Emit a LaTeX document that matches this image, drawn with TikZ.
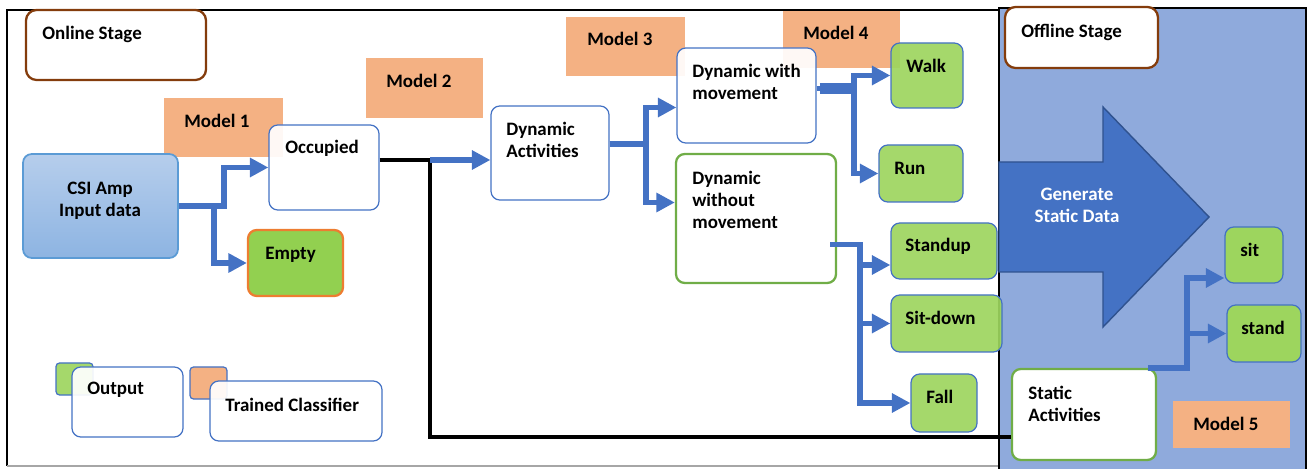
\documentclass[tikz,border=0pt]{standalone}
\usepackage{fontspec}
\setmainfont{Carlito}
\usetikzlibrary{arrows.meta,fit,calc}
\definecolor{mlorange}{RGB}{244,177,131}
\definecolor{mlgreen}{RGB}{157,213,94}
\definecolor{mlgreenempty}{RGB}{146,208,80}
\definecolor{mlblue}{RGB}{68,114,196}
\definecolor{mlpanel}{RGB}{143,170,220}
\definecolor{mlbrown}{RGB}{132,60,12}
\definecolor{mlgreenline}{RGB}{112,173,71}
\definecolor{mlorangeline}{RGB}{237,125,49}
\definecolor{mldark}{RGB}{47,82,143}
\definecolor{mlcsitop}{RGB}{182,206,236}
\definecolor{mlcsibot}{RGB}{141,180,226}
\definecolor{mlcsiline}{RGB}{91,155,213}

\tikzset{
  modelbox/.style={fill=mlorange, inner sep=0pt},
  actbox/.style={draw=mlblue, line width=0.7pt, fill=white, fill opacity=0.92, rounded corners=5pt, inner sep=0pt},
  greenbox/.style={actbox, draw=mlgreenline, line width=1.3pt},
  outbox/.style={actbox, fill=mlgreen},
  stagebox/.style={draw=mlbrown, line width=1.3pt, fill=white, rounded corners=6pt, inner sep=0pt},
  lbl/.style={font=\bfseries\fontsize{10.8}{12.5}\selectfont, inner sep=0pt, anchor=west, align=left},
  flow/.style={draw=mlblue, line width=3.4pt, -{Triangle[length=10.5pt,width=10.5pt]}},
  ctrl/.style={draw=black, line width=2.2pt},
}

\begin{document}
\begin{tikzpicture}[x=0.02cm, y=-0.02cm]
  \useasboundingbox (0,0) rectangle (1308,469);

  % online frame and offline panel
  \draw[line width=1.1pt] (999,10) -- (7,10) -- (7,466);
  \draw[line width=0.8pt, black!35] (7,466) -- (999,466);
  \filldraw[fill=mlpanel, draw=black, line width=1.1pt] (999,8) rectangle (1306,475);

  % trained classifiers
  \node[modelbox, fit={(164,98) (283,157)}] (m1) {};
  \node[modelbox, fit={(366,58) (483,118)}] (m2) {};
  \node[modelbox, fit={(566,17) (685,76)}] (m3) {};
  \node[modelbox, fit={(783,11) (900,68)}] (m4) {};
  \node[modelbox, fit={(1173,401) (1290,448)}] (m5) {};

  % generate static data arrow
  \filldraw[fill=mlblue, draw=mldark, line width=0.8pt]
    (999,162) -- (1103,162) -- (1103,107) -- (1209,217) -- (1103,327) -- (1103,272) -- (999,272) -- cycle;

  % stage labels
  \node[stagebox, fit={(26,10) (206,80)}] (online) {};
  \node[stagebox, fit={(1005,7) (1158,68)}] (offline) {};

  % activity boxes
  \node[actbox, draw=mlcsiline, line width=1pt, top color=mlcsitop, bottom color=mlcsibot, fill opacity=1, fit={(23,154) (178,258)}] (csi) {};
  \node[actbox, fit={(269,125) (379,210)}] (occ) {};
  \node[outbox, draw=mlorangeline, line width=1.3pt, fill=mlgreenempty, fill opacity=1, fit={(248,230) (343,296)}] (empty) {};
  \node[actbox, fit={(491,106) (609,200)}] (da) {};
  \node[actbox, fit={(677,48) (816,143)}] (dwm) {};
  \node[greenbox, fit={(676,154) (836,283)}] (dwom) {};
  \node[greenbox, fill opacity=1, fit={(1012,369) (1156,460)}] (stat) {};

  % outputs
  \node[outbox, fit={(891,43) (963,108)}] (walk) {};
  \node[outbox, fit={(879,145) (963,202)}] (run) {};
  \node[outbox, fit={(891,223) (997,279)}] (standup) {};
  \node[outbox, fit={(891,295) (1002,352)}] (sitdown) {};
  \node[outbox, fit={(911,374) (977,432)}] (fall) {};
  \node[outbox, fill opacity=1, fit={(1225,227) (1283,283)}] (sit) {};
  \node[outbox, fill opacity=1, fit={(1227,305) (1301,362)}] (stand) {};

  % legend
  \node[outbox, rounded corners=2pt, fit={(56,363) (93,395)}] (keygreen) {};
  \node[actbox, fit={(72,367) (183,437)}] (keyout) {};
  \node[modelbox, draw=mlblue, line width=0.7pt, rounded corners=2pt, fit={(190,367) (227,399)}] (keyorange) {};
  \node[actbox, fit={(210,381) (382,441)}] (keytc) {};

  % connectors
  \coordinate (jn) at (430,160);
  \coordinate (jb) at (430,437);
  \draw[flow] (csi.east) -- ++(45,0) |- (occ.west);
  \draw[flow] (csi.east) -- ++(35,0) |- (empty.west);
  \draw[ctrl] (jn -| occ.east) -- (jn) -- (jb) -- (jb -| stat.west);
  \draw[flow] (jn) -- (jn -| da.west);
  \draw[flow] ($(da.east)+(0,-9)$) -- ++(36,0) |- ($(dwm.west)+(0,12)$);
  \draw[flow] ($(da.east)+(0,-9)$) -- ++(36,0) |- ($(dwom.west)+(0,-16)$);
  \draw[mlblue, line width=6pt] ($(dwm.east)+(3,-7)$) -- ++(34,0);
  \draw[flow] ($(dwm.east)+(0,-7)$) -- ++(37,0) |- (walk.west);
  \draw[flow] ($(dwm.east)+(0,-7)$) -- ++(37,0) |- (run.west);
  \draw[flow] ($(dwom.east)+(-7,26)$) -- ++(30,0) |- ($(standup.west)+(0,14)$);
  \draw[flow] ($(dwom.east)+(-7,26)$) -- ++(30,0) |- (sitdown.west);
  \draw[flow] ($(dwom.east)+(-7,26)$) -- ++(30,0) |- (fall.west);
  \draw[flow] ($(stat.north east)+(-9,0)$) -- ++(39,0) |- ($(sit.west)+(0,23)$);
  \draw[flow] ($(stat.north east)+(-9,0)$) -- ++(39,0) |- (stand.west);

  % texts
  \node[lbl] (onlinet) at (42,34) {Online Stage};
  \node[lbl] (offlinet) at (1021,32) {Offline Stage};
  \node[lbl] (m1t) at (184,121) {Model 1};
  \node[lbl] (m2t) at (386,81) {Model 2};
  \node[lbl] (m3t) at (587,39) {Model 3};
  \node[lbl] (m4t) at (803,33) {Model 4};
  \node[lbl] (m5t) at (1193,424) {Model 5};
  \node[lbl, anchor=center, align=center] (csit) at (100,201) {CSI Amp\\Input data};
  \node[lbl] (occt) at (285,148) {Occupied};
  \node[lbl] (emptyt) at (265,255) {Empty};
  \node[lbl] (dat) at (506,140) {Dynamic\\Activities};
  \node[lbl] (dwmt) at (692,82) {Dynamic with\\movement};
  \node[lbl] (dwomt) at (692,200) {Dynamic\\without\\movement};
  \node[lbl] (walkt) at (906,66) {Walk};
  \node[lbl] (runt) at (894,168) {Run};
  \node[lbl] (standupt) at (905,246) {Standup};
  \node[lbl] (sitdownt) at (905,318) {Sit-down};
  \node[lbl] (fallt) at (926,397) {Fall};
  \node[lbl, anchor=center, align=center, text=white] (gent) at (1077,205) {Generate\\Static Data};
  \node[lbl] (sitt) at (1240,250) {sit};
  \node[lbl] (standt) at (1241,328) {stand};
  \node[lbl] (statt) at (1028,404) {Static\\Activities};
  \node[lbl] (keyoutt) at (87,390) {Output};
  \node[lbl] (keytct) at (225,405) {Trained Classifier};
\end{tikzpicture}
\end{document}
